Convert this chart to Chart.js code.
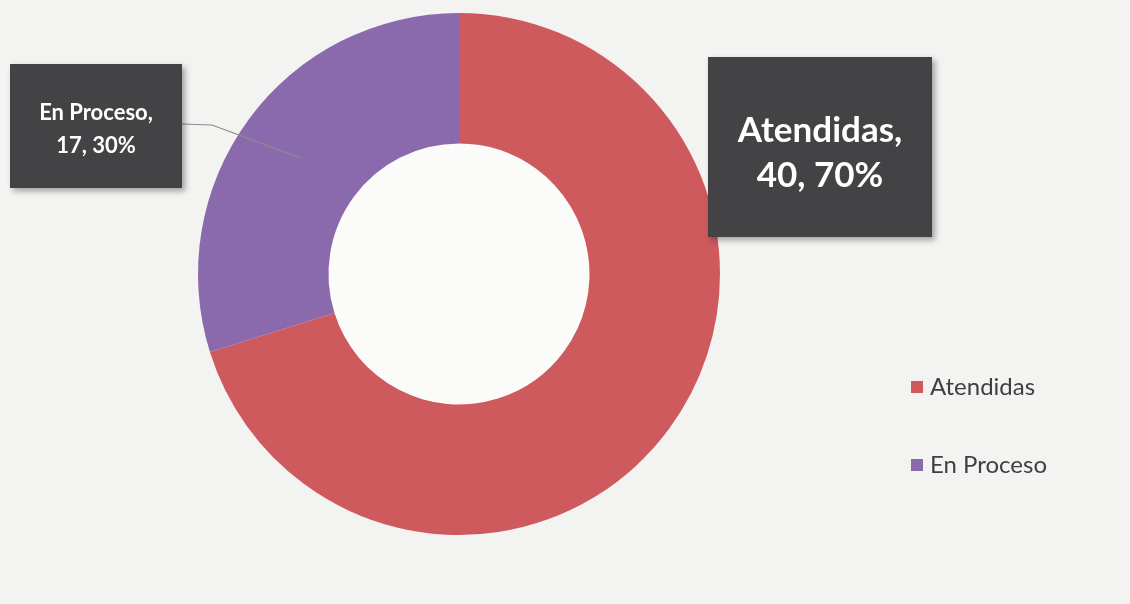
<!DOCTYPE html>
<html>
<head>
<meta charset="utf-8">
<script src="https://cdn.jsdelivr.net/npm/chart.js@4/dist/chart.umd.min.js"></script>
<style>
  html, body { margin: 0; padding: 0; background: #f3f3f1; }
  #wrap { width: 1130px; height: 604px; position: relative; }
</style>
</head>
<body>
<div id="wrap"><canvas id="chart" width="1130" height="604"></canvas></div>
<script>
const categories = ['Atendidas', 'En Proceso'];
const counts = [40, 17];
const percents = ['70%', '30%'];
const colors = ['#cf5a5e', '#8a69ad'];

// label boxes: [x, y, w, h, font size, line gap, y shift]
const labelBoxes = [
  [708, 57, 224, 180, 35, 45, 6],
  [10, 64, 172, 124, 22, 33, 3],
];

const boxLabels = {
  id: 'boxLabels',
  beforeDatasetsDraw(chart) {
    const ctx = chart.ctx;
    const arc = chart.getDatasetMeta(0).data[0];
    ctx.save();
    ctx.fillStyle = '#fbfbfa';
    ctx.beginPath();
    ctx.arc(arc.x, arc.y, arc.innerRadius, 0, Math.PI * 2);
    ctx.fill();
    ctx.restore();
  },
  afterDatasetsDraw(chart) {
    const ctx = chart.ctx;
    const meta = chart.getDatasetMeta(0);
    ctx.save();
    meta.data.forEach((arc, i) => {
      const [x, y, w, h, size, gap, shift] = labelBoxes[i];
      // leader line for the small slice
      if (i === 1) {
        const p = arc.tooltipPosition();
        ctx.strokeStyle = '#8c8c8c';
        ctx.lineWidth = 1.2;
        ctx.beginPath();
        ctx.moveTo(x + w, y + h / 2 - 2);
        ctx.lineTo(x + w + 30, y + h / 2 - 1);
        ctx.lineTo(p.x, p.y);
        ctx.stroke();
      }
      ctx.shadowColor = 'rgba(0,0,0,0.35)';
      ctx.shadowBlur = 6;
      ctx.shadowOffsetX = 3;
      ctx.shadowOffsetY = 3;
      ctx.fillStyle = '#434345';
      ctx.fillRect(x, y, w, h);
      ctx.shadowColor = 'transparent';
      ctx.fillStyle = '#ffffff';
      ctx.font = 'bold ' + size + 'px Lato, "Open Sans", sans-serif';
      ctx.textAlign = 'center';
      ctx.textBaseline = 'middle';
      const cy = y + h / 2 + shift;
      ctx.fillText(categories[i] + ',', x + w / 2, cy - gap / 2);
      ctx.fillText(counts[i] + ', ' + percents[i], x + w / 2, cy + gap / 2);
    });

    // legend
    ctx.font = '24px Lato, "Open Sans", sans-serif';
    ctx.textAlign = 'left';
    ctx.textBaseline = 'middle';
    categories.forEach((c, i) => {
      const ly = 387 + i * 78;
      ctx.fillStyle = colors[i];
      ctx.fillRect(911, ly - 6, 12, 12);
      ctx.fillStyle = '#404040';
      ctx.fillText(c, 930, ly);
    });
    ctx.restore();
  },
};

new Chart(document.getElementById('chart'), {
  type: 'doughnut',
  data: {
    labels: categories,
    datasets: [{
      data: counts,
      backgroundColor: colors,
      borderWidth: 0,
    }],
  },
  options: {
    responsive: false,
    animation: false,
    cutout: '50%',
    layout: { padding: { left: 198, right: 410, top: 13, bottom: 69 } },
    plugins: {
      legend: { display: false },
      tooltip: { enabled: false },
    },
  },
  plugins: [boxLabels],
});
</script>
</body>
</html>
